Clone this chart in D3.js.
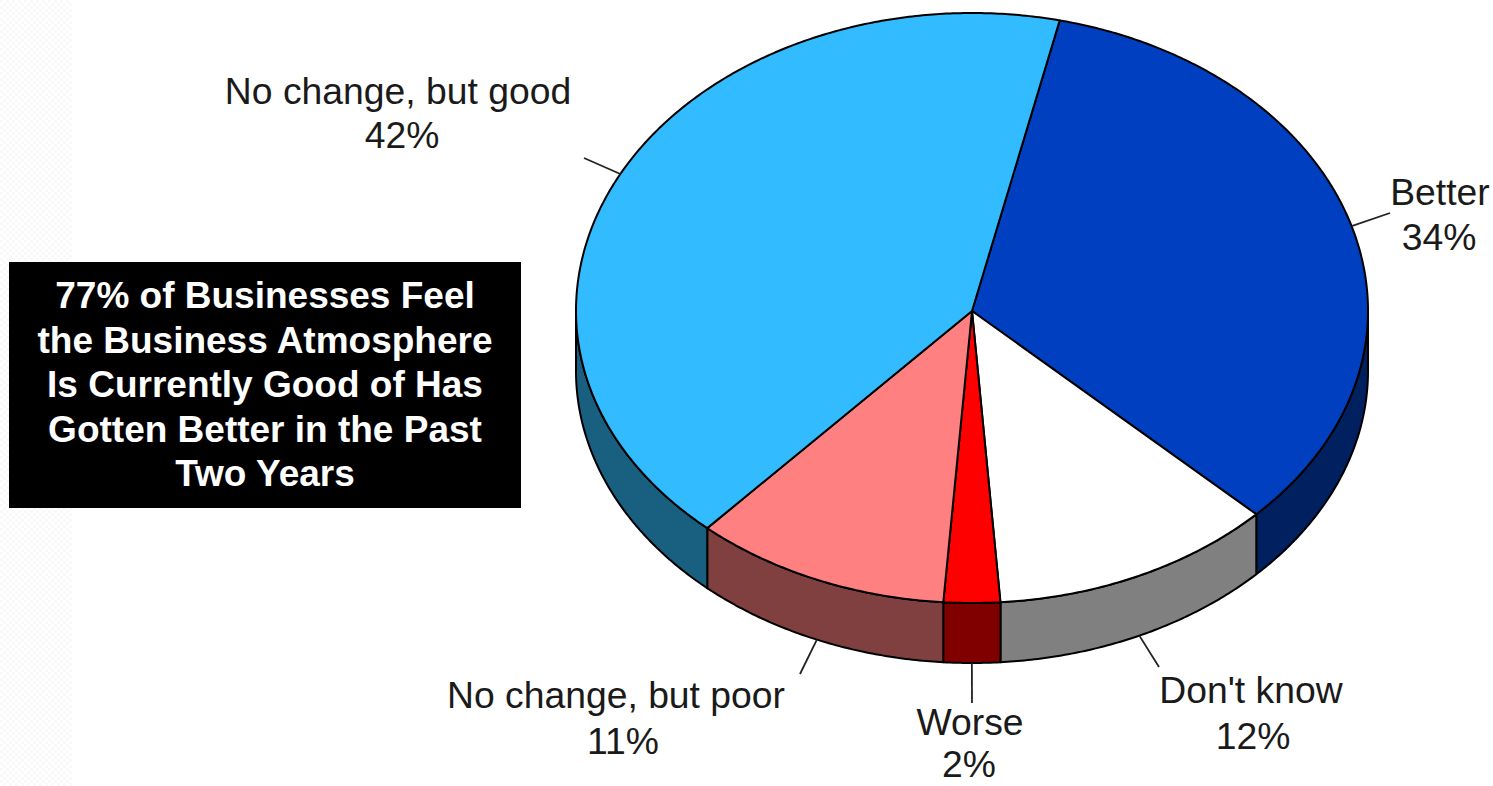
<!DOCTYPE html>
<html><head><meta charset="utf-8">
<script src="https://cdn.jsdelivr.net/npm/d3@7"></script>
<style>html,body{margin:0;padding:0;background:#fff;overflow:hidden}svg{display:block}</style>
</head><body>
<svg id="c" width="1493" height="786"></svg>
<script>
const categories = ["Better","Don't know","Worse","No change, but poor","No change, but good"];
const sliceShares = [33.7, 11.6, 2.3, 10.5, 41.9];
const percentLabels = ["34%","12%","2%","11%","42%"];
const topColors = ["#0040C0","#FFFFFF","#FF0000","#FF8080","#33BBFF"];
const sideColors = ["#002060","#808080","#800000","#804040","#196080"];
const titleLines = ["77% of Businesses Feel","the Business Atmosphere","Is Currently Good of Has","Gotten Better in the Past","Two Years"];

const labelLayout = [
  {end:[1390,213], x1:1440, y1:205, x2:1439, y2:250},
  {end:[1159,667], x1:1251, y1:703, x2:1253, y2:749},
  {end:[972,703],  x1:970,  y1:735, x2:969,  y2:777},
  {end:[800,674],  x1:616,  y1:708, x2:623,  y2:754},
  {end:[584,158],  x1:398,  y1:104, x2:402,  y2:148}
];
const cx=972, cy=311, rx=396, ryTop=298, ryBottom=292, depth=60;
const startDeg=12.8;
const rad=Math.PI/180;

const svg=d3.select("#c");
const defs=svg.append("defs");
const pat=defs.append("pattern").attr("id","tex").attr("width",6).attr("height",6).attr("patternUnits","userSpaceOnUse");
pat.append("rect").attr("width",6).attr("height",6).attr("fill","#fff");
pat.append("rect").attr("x",0).attr("y",0).attr("width",3).attr("height",3).attr("fill","#f9f9f9");
pat.append("rect").attr("x",3).attr("y",3).attr("width",3).attr("height",3).attr("fill","#f9f9f9");
svg.append("rect").attr("x",0).attr("y",0).attr("width",72).attr("height",786).attr("fill","url(#tex)");

const pie=d3.pie().sort(null).startAngle(startDeg*rad).endAngle((startDeg+360)*rad);
const arcs=pie(sliceShares);

const rim=(a,dz=0)=>{
  const s=Math.cos(a);
  return [cx+rx*Math.sin(a), cy-s*(s>0?ryTop:ryBottom)+dz];
};
const sample=(a0,a1,dz=0)=>{
  const n=Math.max(2,Math.ceil((a1-a0)/(0.5*rad)));
  return d3.range(n+1).map(i=>rim(a0+(a1-a0)*i/n,dz));
};
const line=d3.line().curve(d3.curveLinear);

const sideG=svg.append("g");
arcs.forEach((d,i)=>{
  const a0=Math.max(d.startAngle,90*rad), a1=Math.min(d.endAngle,270*rad);
  if(a1<=a0) return;
  const pts=sample(a0,a1).concat(sample(a0,a1,depth).reverse());
  sideG.append("path").attr("d",line(pts)+"Z").attr("fill",sideColors[i])
    .attr("stroke","#000").attr("stroke-width",2).attr("stroke-linejoin","round");
});
const topG=svg.append("g");
arcs.forEach((d,i)=>{
  const pts=[[cx,cy]].concat(sample(d.startAngle,d.endAngle));
  topG.append("path").attr("d",line(pts)+"Z").attr("fill",topColors[i])
    .attr("stroke","#000").attr("stroke-width",2).attr("stroke-linejoin","round");
});
const lab=svg.append("g").attr("font-family","'Liberation Sans',Arial,sans-serif").attr("font-size",37.3).attr("fill","#1a1a1a").attr("text-anchor","middle");
arcs.forEach((d,i)=>{
  const m=(d.startAngle+d.endAngle)/2;
  const front=Math.cos(m)<0;
  const p=rim(m,front?depth:0), L=labelLayout[i];
  svg.append("line").attr("x1",p[0]).attr("y1",p[1]).attr("x2",L.end[0]).attr("y2",L.end[1])
    .attr("stroke","#222").attr("stroke-width",1.8);
  lab.append("text").attr("x",L.x1).attr("y",L.y1).text(categories[i]);
  lab.append("text").attr("x",L.x2).attr("y",L.y2).text(percentLabels[i]);
});
svg.append("rect").attr("x",9).attr("y",262).attr("width",512).attr("height",246).attr("fill","#000");
const y=d3.scalePoint().domain(titleLines).range([308,486]);
svg.append("g").attr("font-family","'Liberation Sans',Arial,sans-serif").attr("font-weight","bold").attr("font-size",37)
  .attr("fill","#fff").attr("text-anchor","middle")
  .selectAll("text").data(titleLines).join("text").attr("x",265).attr("y",d=>y(d)).text(d=>d);
</script>
</body></html>
